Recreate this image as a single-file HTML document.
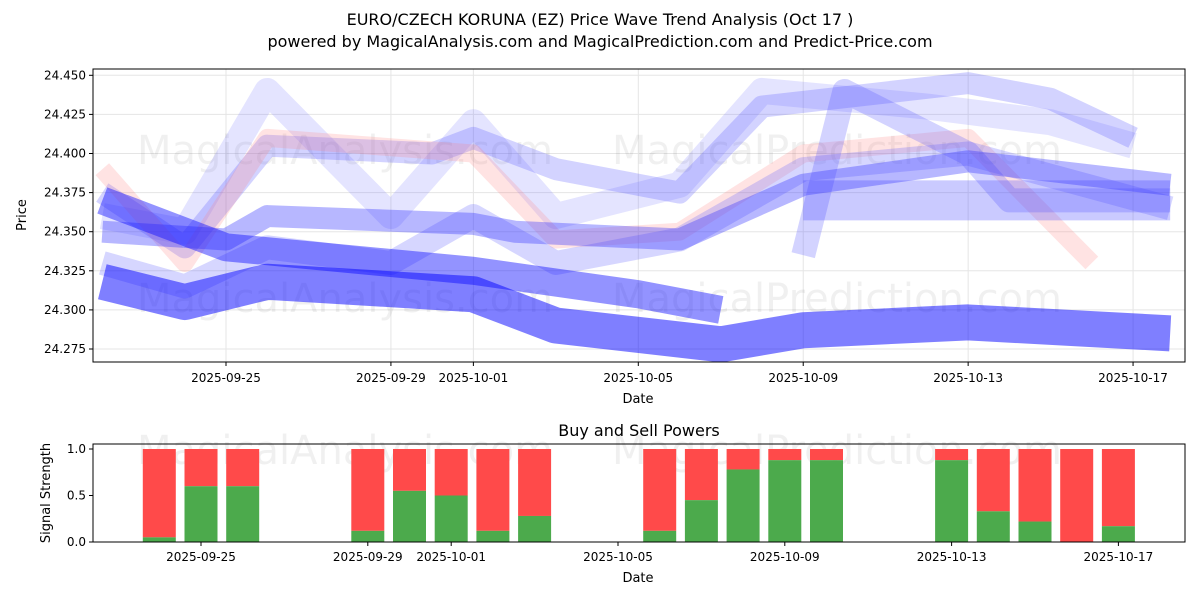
<!DOCTYPE html>
<html><head><meta charset="utf-8"><style>
body{margin:0;background:#fff;font-family:"Liberation Sans","DejaVu Sans",sans-serif}
svg text{font-family:"DejaVu Sans","Liberation Sans",sans-serif}
</style></head><body>
<svg id="c" width="1200" height="600" xmlns="http://www.w3.org/2000/svg">
<rect width="1200" height="600" fill="#fff"/>
<text x="600" y="25" text-anchor="middle" font-size="16">EURO/CZECH KORUNA (EZ) Price Wave Trend Analysis (Oct 17 )</text>
<text x="600" y="47" text-anchor="middle" font-size="16">powered by MagicalAnalysis.com and MagicalPrediction.com and Predict-Price.com</text>
<defs>
<clipPath id="ct"><rect x="93" y="69" width="1092" height="293"/></clipPath>
<clipPath id="cb"><rect x="93" y="444" width="1092" height="98"/></clipPath>
</defs>
<g id="topg"></g>
<g id="botg"></g>
</svg>
<script>
const tickDays=[0,4,6,10,14,18,22];
const tickLabels=["2025-09-25","2025-09-29","2025-10-01","2025-10-05","2025-10-09","2025-10-13","2025-10-17"];
const yTicks=[24.275,24.300,24.325,24.350,24.375,24.400,24.425,24.450];
// bands: days relative to 2025-09-25
const b1Days=[-3,-1,1,6,8,12,14,18,22.9];
const b1Vals=[24.318,24.305,24.318,24.31,24.29,24.278,24.287,24.292,24.285];
const b2Days=[-3,0,2,6,10,12];
const b2Vals=[24.37,24.34,24.335,24.325,24.31,24.30];
const b3Days=[-3,-1,1,5,6,8,11,13,18,20,22];
const b3Vals=[24.375,24.34,24.405,24.40,24.41,24.39,24.375,24.43,24.445,24.435,24.41];
const b4Days=[-3,0,1,6,7,11,14,18,22.9];
const b4Vals=[24.35,24.345,24.36,24.355,24.35,24.345,24.38,24.395,24.38];
const b5Days=[-3,-1,1,6,8,11,14,18,21];
const b5Vals=[24.39,24.33,24.41,24.40,24.345,24.35,24.40,24.41,24.33];
const b6Days=[-3,-1,1,4,6,8,11,13,17,20,22];
const b6Vals=[24.36,24.35,24.44,24.36,24.42,24.36,24.38,24.44,24.43,24.42,24.405];
const b7Days=[14,15,18,19,22.9];
const b7Vals=[24.335,24.44,24.40,24.37,24.37];
const b8Days=[14,18,22.9];
const b8Vals=[24.37,24.37,24.37];
const b9Days=[-3,-1,1,4,6,8,11,14,18,22.9];
const b9Vals=[24.33,24.315,24.34,24.33,24.36,24.33,24.345,24.39,24.40,24.365];
const buyDays=[-1,0,1,4,5,6,7,8,11,12,13,14,15,18,19,20,21,22];
const buyVals=[0.05,0.6,0.6,0.12,0.55,0.5,0.12,0.28,0.12,0.45,0.78,0.88,0.88,0.88,0.33,0.22,0,0.17];

const NS="http://www.w3.org/2000/svg";
function mk(p,t,a){const e=document.createElementNS(NS,t);for(const k in a)e.setAttribute(k,a[k]);p.appendChild(e);return e;}
const xT=d=>226+d*41.23, yT=v=>349-(v-24.275)/0.025*39.1;
const xB=d=>201+d*41.7, yB=v=>542-v*93;
const gTop=document.getElementById('topg'), gBot=document.getElementById('botg');
for(let i=0;i<tickDays.length;i++){const l=mk(gTop,'line',{x1:xT(tickDays[i]),x2:xT(tickDays[i]),y1:69,y2:362,stroke:'#e5e5e5'});}
for(const v of yTicks){const l=mk(gTop,'line',{x1:93,x2:1185,y1:yT(v),y2:yT(v),stroke:'#e5e5e5'});}
[[345,150],[837,150],[345,298],[837,298],[345,450],[837,450]].forEach((p,i)=>{const t=mk(gTop,'text',{x:p[0],y:p[1]+14,'text-anchor':'middle','font-size':40,fill:'#000','fill-opacity':0.06});t.textContent=i%2?'MagicalPrediction.com':'MagicalAnalysis.com';});
const g=mk(gTop,'g',{'clip-path':'url(#ct)'});
const bands=[[b6Days,b6Vals,'#6a6aff',0.18,26],[b3Days,b3Vals,'#5050ff',0.25,22],[b5Days,b5Vals,'#ff8080',0.22,18],[b9Days,b9Vals,'#5a5aff',0.25,24],[b7Days,b7Vals,'#5050ff',0.25,24],[b8Days,b8Vals,'#4040ff',0.28,40],[b4Days,b4Vals,'#3030ff',0.35,22],[b2Days,b2Vals,'#1010ff',0.45,28],[b1Days,b1Vals,'#0000ff',0.5,36]];
bands.forEach((b,i)=>{const pts=b[0].map((d,j)=>xT(d)+','+yT(b[1][j])).join(' ');const p=mk(g,'polyline',{points:pts,fill:'none',stroke:b[2],'stroke-opacity':b[3],'stroke-width':b[4],'stroke-linejoin':'round'});});
mk(gTop,'rect',{x:93,y:69,width:1092,height:293,fill:'none',stroke:'#000'});
tickDays.forEach((d,i)=>{mk(gTop,'line',{x1:xT(d),x2:xT(d),y1:362,y2:366,stroke:'#000'});const t=mk(gTop,'text',{x:xT(d),y:382,'text-anchor':'middle','font-size':12});t.textContent=tickLabels[i];});
yTicks.forEach(v=>{mk(gTop,'line',{x1:89,x2:93,y1:yT(v),y2:yT(v),stroke:'#000'});const t=mk(gTop,'text',{x:86,y:yT(v)+4,'text-anchor':'end','font-size':12});t.textContent=v.toFixed(3);});
let t=mk(gTop,'text',{x:638,y:403,'text-anchor':'middle','font-size':13});t.textContent='Date';
t=mk(gTop,'text',{x:26,y:215,'text-anchor':'middle','font-size':13,transform:'rotate(-90 26 215)'});t.textContent='Price';
t=mk(gBot,'text',{x:639,y:436,'text-anchor':'middle','font-size':16});t.textContent='Buy and Sell Powers';
const gb=mk(gBot,'g',{'clip-path':'url(#cb)'});
buyDays.forEach((d,i)=>{const x=xB(d)-16.5;
const r=mk(gb,'rect',{x:x,y:yB(1),width:33,height:yB(buyVals[i])-yB(1),fill:'#ff4a4a'});
const q=mk(gb,'rect',{x:x,y:yB(buyVals[i]),width:33,height:yB(0)-yB(buyVals[i]),fill:'#4caa4c'});});
mk(gBot,'rect',{x:93,y:444,width:1092,height:98,fill:'none',stroke:'#000'});
tickDays.forEach((d,i)=>{mk(gBot,'line',{x1:xB(d),x2:xB(d),y1:542,y2:546,stroke:'#000'});const t=mk(gBot,'text',{x:xB(d),y:561,'text-anchor':'middle','font-size':12});t.textContent=tickLabels[i];});
[0,0.5,1].forEach(v=>{mk(gBot,'line',{x1:89,x2:93,y1:yB(v),y2:yB(v),stroke:'#000'});const t=mk(gBot,'text',{x:86,y:yB(v)+4,'text-anchor':'end','font-size':12});t.textContent=v.toFixed(1);});
t=mk(gBot,'text',{x:638,y:582,'text-anchor':'middle','font-size':13});t.textContent='Date';
t=mk(gBot,'text',{x:50,y:493,'text-anchor':'middle','font-size':13,transform:'rotate(-90 50 493)'});t.textContent='Signal Strength';
</script>
</body></html>
